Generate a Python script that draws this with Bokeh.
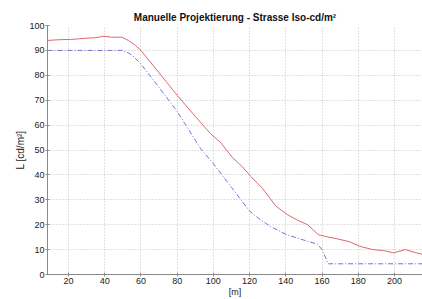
from bokeh.plotting import figure
from bokeh.models import FixedTicker, Range1d
from bokeh.embed import file_html
from bokeh.resources import INLINE

# Red (solid) curve
red_x = [8.4, 15, 21, 25, 30, 35, 39.5, 44, 49.5, 53, 57, 60, 70, 80, 90, 98.5,
         104, 110.5, 116, 120.5, 127, 134.5, 140.5, 146, 152, 158, 163, 168.5,
         175, 181, 188, 194, 199.5, 206, 211, 215.5]
red_y = [94, 94.3, 94.4, 94.6, 94.9, 95.1, 95.7, 95.3, 95.3, 94, 92, 90, 81, 72,
         63.5, 56.5, 53, 47, 43.3, 39.5, 34.7, 27.5, 24.2, 22, 20, 16, 15.1, 14.3,
         13.2, 11.3, 10, 9.6, 8.7, 10, 8.9, 8.1]

# Blue (dash-dot) curve
blue_x = [8.4, 49.5, 53, 56, 60, 67, 80, 93, 100, 110, 120, 125, 131.5, 140.5,
          150, 157.5, 160, 163.5, 215.5]
blue_y = [90, 90, 89, 87.5, 84.5, 78, 65.5, 50.5, 44.5, 35, 25.5, 22.5, 19.3, 16,
          13.8, 12.2, 10, 4.3, 4.3]

x_ticks = [20, 40, 60, 80, 100, 120, 140, 160, 180, 200]
y_ticks = [0, 10, 20, 30, 40, 50, 60, 70, 80, 90, 100]

title_text = "Manuelle Projektierung - Strasse Iso-cd/m\u00b2"
x_label = "[m]"
y_label = "L [cd/m\u00b2]"

FONT = "Liberation Sans"

p = figure(width=422, height=299, title=title_text, output_backend="svg",
           toolbar_location=None, x_range=Range1d(8.4, 215.5),
           y_range=Range1d(0, 100),
           min_border_left=47, min_border_right=0, min_border_top=25,
           min_border_bottom=24)
p.outline_line_color = None
p.background_fill_color = "white"
p.border_fill_color = "white"

p.title.align = "center"
p.title.text_font = FONT
p.title.text_font_size = "10px"
p.title.text_font_style = "bold"
p.title.text_color = "#111111"
p.title.standoff = 6

for ax in (p.xaxis[0], p.yaxis[0]):
    ax.axis_line_color = "#8a8a8a"
    ax.major_tick_line_color = "#8a8a8a"
    ax.minor_tick_line_color = None
    ax.major_tick_in = 2
    ax.major_tick_out = 2
    ax.major_label_text_font = FONT
    ax.major_label_text_font_size = "9px"
    ax.major_label_text_color = "#222222"
    ax.axis_label_text_font = FONT
    ax.axis_label_text_font_size = "9px"
    ax.axis_label_text_font_style = "normal"
    ax.axis_label_text_color = "#222222"
    ax.axis_label_standoff = 0

p.yaxis[0].axis_label_text_font_size = "10px"
p.xaxis[0].axis_label = x_label
p.yaxis[0].axis_label = y_label
p.xaxis[0].ticker = FixedTicker(ticks=x_ticks)
p.yaxis[0].ticker = FixedTicker(ticks=y_ticks)
p.xaxis[0].major_label_standoff = 1
p.yaxis[0].major_label_standoff = 1

for g in (p.xgrid[0], p.ygrid[0]):
    g.grid_line_color = "#c4c4c4"
    g.grid_line_dash = "1 2"
    g.grid_line_width = 1
p.xgrid[0].ticker = FixedTicker(ticks=x_ticks)
p.ygrid[0].ticker = FixedTicker(ticks=y_ticks)

p.line(red_x, red_y, line_color="#dc6772", line_width=1)
p.line(blue_x, blue_y, line_color="#7272d6", line_width=1, line_dash="5 2 1 2")

open("out.html", "w").write(file_html(p, INLINE))
